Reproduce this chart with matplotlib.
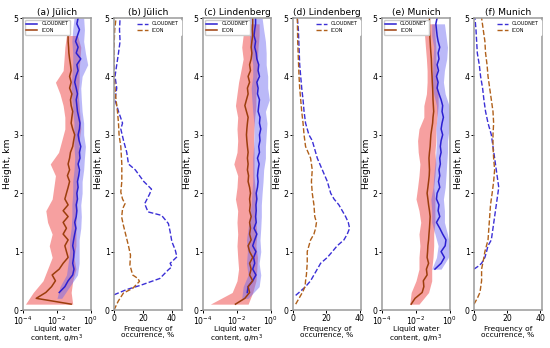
import numpy as np
import matplotlib.pyplot as plt

# ---- liquid water content, g/m3 ----
# (a) Juelich
z_a_cn = np.arange(0.3, 5.01, 0.1)
lwc_a_cn = [0.0135, 0.029, 0.045, 0.084, 0.10, 0.084, 0.095, 0.10, 0.084, 0.095,
            0.11, 0.13, 0.11, 0.135, 0.147, 0.135, 0.16, 0.147, 0.174, 0.16,
            0.19, 0.21, 0.174, 0.225, 0.21, 0.25, 0.20, 0.174, 0.21, 0.225,
            0.19, 0.16, 0.147, 0.135, 0.16, 0.135, 0.11, 0.13, 0.174, 0.147,
            0.25, 0.135, 0.174, 0.124, 0.16, 0.21, 0.147, 0.174]
zb_a_cn = np.arange(0.2, 5.01, 0.2)
lo_a_cn = [0.010, 0.015, 0.036, 0.045, 0.055, 0.055, 0.068, 0.075, 0.075, 0.084,
           0.084, 0.10, 0.11, 0.10, 0.095, 0.10, 0.084, 0.075, 0.068, 0.075,
           0.084, 0.084, 0.075, 0.084, 0.10]
hi_a_cn = [0.019, 0.055, 0.16, 0.20, 0.20, 0.20, 0.25, 0.27, 0.25, 0.30,
           0.30, 0.37, 0.41, 0.47, 0.37, 0.37, 0.30, 0.27, 0.25, 0.30,
           0.64, 0.47, 0.37, 0.41, 0.37]
z_a_ic = np.arange(0.1, 4.71, 0.1)
lwc_a_ic = [0.068, 0.0006, 0.0022, 0.0048, 0.0081, 0.0052, 0.0135, 0.023, 0.045, 0.036,
            0.029, 0.045, 0.023, 0.036, 0.023, 0.045, 0.023, 0.045, 0.029, 0.036,
            0.045, 0.055, 0.041, 0.055, 0.045, 0.055, 0.062, 0.084, 0.095, 0.11,
            0.084, 0.068, 0.075, 0.084, 0.068, 0.062, 0.075, 0.055, 0.068, 0.055,
            0.068, 0.062, 0.055, 0.05, 0.048, 0.045, 0.045]
zb_a_ic = np.arange(0.1, 4.71, 0.2)
lo_a_ic = [0.00014, 0.0004, 0.0015, 0.0028, 0.0052, 0.0035, 0.0052, 0.0028, 0.0022, 0.0052,
           0.0065, 0.0081, 0.004, 0.0124, 0.019, 0.029, 0.029, 0.023, 0.015, 0.0081,
           0.023, 0.026, 0.029, 0.036]
hi_a_ic = [0.084, 0.068, 0.084, 0.13, 0.10, 0.13, 0.13, 0.13, 0.147, 0.147,
           0.16, 0.16, 0.174, 0.20, 0.20, 0.25, 0.225, 0.20, 0.174, 0.20,
           0.20, 0.225, 0.25, 0.16]

# (c) Lindenberg
z_c_cn = np.arange(0.3, 5.01, 0.1)
lwc_c_cn = [0.04, 0.045, 0.084, 0.13, 0.084, 0.11, 0.095, 0.13, 0.084, 0.11,
            0.147, 0.10, 0.135, 0.124, 0.135, 0.13, 0.147, 0.135, 0.16, 0.174,
            0.16, 0.174, 0.20, 0.16, 0.21, 0.19, 0.225, 0.21, 0.25, 0.21,
            0.225, 0.174, 0.19, 0.21, 0.16, 0.174, 0.147, 0.21, 0.174, 0.19,
            0.147, 0.135, 0.11, 0.124, 0.10, 0.11, 0.124, 0.124]
zb_c_cn = np.arange(0.2, 5.01, 0.2)
lo_c_cn = [0.019, 0.023, 0.045, 0.036, 0.041, 0.036, 0.045, 0.055, 0.068, 0.075,
           0.084, 0.084, 0.084, 0.095, 0.10, 0.10, 0.084, 0.075, 0.068, 0.084,
           0.084, 0.068, 0.055, 0.055, 0.055]
hi_c_cn = [0.045, 0.20, 0.25, 0.20, 0.25, 0.225, 0.25, 0.27, 0.27, 0.30,
           0.34, 0.37, 0.47, 0.47, 0.52, 0.58, 0.47, 0.80, 0.64, 0.64,
           0.52, 0.52, 0.47, 0.37, 0.30]
z_c_ic = np.arange(0.1, 5.01, 0.1)
lwc_c_ic = [0.0081, 0.029, 0.055, 0.045, 0.084, 0.055, 0.068, 0.055, 0.084, 0.055,
            0.045, 0.068, 0.055, 0.062, 0.055, 0.068, 0.055, 0.06, 0.055, 0.062,
            0.055, 0.045, 0.048, 0.041, 0.045, 0.041, 0.045, 0.041, 0.038, 0.036,
            0.038, 0.041, 0.045, 0.036, 0.029, 0.036, 0.045, 0.041, 0.055, 0.045,
            0.062, 0.055, 0.068, 0.075, 0.068, 0.075, 0.084, 0.08, 0.084, 0.084]
zb_c_ic = np.arange(0.1, 4.91, 0.2)
lo_c_ic = [0.00027, 0.0052, 0.010, 0.0124, 0.011, 0.010, 0.011, 0.010, 0.011, 0.0081,
           0.010, 0.011, 0.0065, 0.010, 0.011, 0.010, 0.011, 0.0081, 0.010, 0.0124,
           0.017, 0.023, 0.019, 0.023, 0.029]
hi_c_ic = [0.045, 0.084, 0.13, 0.147, 0.16, 0.13, 0.147, 0.13, 0.13, 0.13,
           0.115, 0.10, 0.10, 0.10, 0.095, 0.10, 0.11, 0.13, 0.13, 0.147,
           0.16, 0.16, 0.174, 0.20, 0.20]

# (e) Munich
z_e_cn = np.arange(0.7, 5.01, 0.1)
lwc_e_cn = [0.13, 0.30, 0.47, 0.30, 0.52, 0.58, 0.37, 0.25, 0.16, 0.25,
            0.20, 0.225, 0.16, 0.174, 0.25, 0.21, 0.25, 0.225, 0.27, 0.25,
            0.30, 0.27, 0.30, 0.37, 0.30, 0.34, 0.41, 0.34, 0.37, 0.30,
            0.225, 0.174, 0.20, 0.16, 0.21, 0.174, 0.225, 0.20, 0.25, 0.20,
            0.174, 0.16, 0.147, 0.174]
zb_e_cn = np.arange(0.7, 4.91, 0.2)
lo_e_cn = [0.084, 0.16, 0.20, 0.13, 0.084, 0.084, 0.075, 0.10, 0.11, 0.13,
           0.147, 0.16, 0.147, 0.174, 0.16, 0.11, 0.084, 0.095, 0.10, 0.11,
           0.084, 0.084]
hi_e_cn = [0.30, 0.80, 0.97, 0.71, 0.47, 0.47, 0.41, 0.52, 0.58, 0.64,
           0.71, 0.71, 0.88, 0.97, 0.88, 0.52, 0.41, 0.47, 0.64, 0.71,
           0.58, 0.47]
z_e_ic = np.arange(0.1, 5.01, 0.1)
lwc_e_ic = [0.0052, 0.0088, 0.023, 0.029, 0.027, 0.045, 0.041, 0.055, 0.045, 0.048,
            0.05, 0.055, 0.058, 0.062, 0.065, 0.068, 0.062, 0.055, 0.05, 0.045,
            0.05, 0.055, 0.06, 0.062, 0.06, 0.058, 0.062, 0.068, 0.071, 0.075,
            0.084, 0.095, 0.10, 0.11, 0.105, 0.10, 0.098, 0.095, 0.091, 0.088,
            0.084, 0.082, 0.08, 0.075, 0.071, 0.068, 0.065, 0.062, 0.062, 0.062]
zb_e_ic = np.arange(0.1, 4.91, 0.2)
lo_e_ic = [0.0043, 0.0052, 0.010, 0.015, 0.015, 0.017, 0.015, 0.019, 0.015, 0.010,
           0.0124, 0.015, 0.017, 0.0135, 0.0124, 0.015, 0.029, 0.029, 0.041, 0.045,
           0.045, 0.041, 0.036, 0.032, 0.029]
hi_e_ic = [0.015, 0.055, 0.084, 0.084, 0.10, 0.11, 0.11, 0.13, 0.13, 0.13,
           0.11, 0.13, 0.147, 0.13, 0.147, 0.147, 0.174, 0.20, 0.20, 0.174,
           0.16, 0.147, 0.147, 0.13, 0.13]

# ---- frequency of occurrence, % ----
z_b_cn = [0.26, 0.35, 0.42, 0.54, 0.69, 0.74, 0.8, 0.91, 1.03, 1.17, 1.34, 1.48, 1.62,
          1.68, 1.82, 1.99, 2.07, 2.2, 2.4, 2.5, 2.7, 2.9, 3.1, 3.2, 3.4, 3.6, 3.8,
          4.0, 4.2, 4.4, 4.6, 4.8, 5.0]
f_b_cn = [0, 8.7, 18, 31.7, 37.6, 40, 38.8, 43.5, 42.3, 40, 38.8, 37.6, 32.9, 23.5,
          21.2, 24.7, 25.9, 20.6, 14.7, 10, 8.8, 6.6, 4.7, 5.9, 3.1, 0.7, 1.9, 0.7,
          1.9, 3.1, 4.2, 3.8, 4.2]
z_b_ic = [0, 0.15, 0.29, 0.37, 0.49, 0.54, 0.6, 0.77, 0.94, 1.11, 1.28, 1.45, 1.59,
          1.73, 1.82, 1.9, 2.02, 2.2, 2.5, 2.8, 3.0, 3.2, 3.4, 3.6, 3.8, 4.0, 4.2,
          4.5, 4.8, 5.0]
f_b_ic = [0, 2.9, 6.5, 12.9, 17.6, 16.5, 12.9, 11, 11.4, 9.9, 8.2, 6.5, 5.3, 5.9,
          7.6, 5.9, 4.7, 5.4, 5.4, 4.7, 3.5, 3.1, 2.4, 1.4, 0.7, 0.2, 0, 0, 0.5, 1.4]

z_d_cn = [0.25, 0.3, 0.4, 0.5, 0.6, 0.7, 0.8, 0.9, 1.0, 1.1, 1.2, 1.3, 1.4, 1.5, 1.6,
          1.7, 1.8, 1.9, 2.0, 2.2, 2.4, 2.6, 2.8, 2.9, 3.0, 3.1, 3.2, 3.4, 3.6, 3.8,
          4.0, 4.2, 4.5, 4.8, 5.0]
f_d_cn = [1.6, 3.6, 7.5, 10.5, 12.5, 14.5, 16.5, 20.5, 23.5, 26.4, 30.4, 32.4, 33.8,
          33, 31.4, 29.4, 27.4, 24.5, 22.5, 20.5, 17.5, 14.5, 12.5, 11.5, 9.5, 8.5,
          7.5, 6.6, 6, 5.2, 4.6, 4, 3.6, 3.2, 2.6]
z_d_ic = [0.1, 0.2, 0.3, 0.4, 0.5, 0.6, 0.8, 1.0, 1.1, 1.2, 1.3, 1.4, 1.5, 1.6, 1.8,
          2.0, 2.2, 2.4, 2.6, 2.8, 3.0, 3.2, 3.4, 3.6, 3.8, 4.0, 4.3, 4.6, 5.0]
f_d_ic = [1.6, 3.6, 5.6, 7.2, 7.5, 8, 8.5, 8.5, 9.5, 10.5, 12.5, 13.5, 14, 13, 12.5,
          11.5, 11, 11.5, 10.5, 7.5, 6.6, 6, 5.2, 4.6, 4, 3.6, 3.2, 2.8, 2.6]

z_f_cn = [0.7, 0.75, 0.8, 0.9, 1.0, 1.1, 1.2, 1.4, 1.6, 1.8, 2.0, 2.1, 2.2, 2.4, 2.6,
          2.8, 3.0, 3.2, 3.4, 3.6, 3.8, 4.0, 4.2, 4.4, 4.6, 4.8, 5.0]
f_f_cn = [0, 2.6, 4.6, 6.6, 7.6, 8.5, 10.5, 11.5, 12.5, 13.5, 14.5, 15, 14.5, 13.5,
          12.5, 11.5, 10.5, 8.5, 7, 6, 5.2, 4, 3.2, 2, 1.6, 1.2, 0.6]
z_f_ic = [0.1, 0.2, 0.3, 0.5, 0.7, 0.9, 1.0, 1.2, 1.4, 1.6, 1.8, 2.0, 2.2, 2.4, 2.6,
          2.8, 3.0, 3.2, 3.4, 3.6, 3.8, 4.0, 4.2, 4.4, 4.6, 4.8, 5.0]
f_f_ic = [0, 2, 3.6, 4.6, 4.6, 6, 6.6, 8.5, 9, 9.5, 10, 11, 11.9, 12.5, 11.9, 11.5,
          11.5, 11.9, 11.5, 10.5, 9.5, 8.5, 7.9, 7, 6.6, 5.6, 4.6]

titles = ['(a) Jülich', '(b) Jülich', '(c) Lindenberg', '(d) Lindenberg',
          '(e) Munich', '(f) Munich']
freq_xmax = [47, 40.6, 41.2]

CN_LINE = '#2b1fd1'
IC_LINE = '#9c3d0c'
CN_FILL = '#6a64f0'
IC_FILL = '#f26d6d'
CN_DASH = '#3b2fd6'
IC_DASH = '#b0601a'
GREY = '#9a9a9a'

lwc_sets = [
    (z_a_cn, lwc_a_cn, zb_a_cn, lo_a_cn, hi_a_cn, z_a_ic, lwc_a_ic, zb_a_ic, lo_a_ic, hi_a_ic),
    (z_c_cn, lwc_c_cn, zb_c_cn, lo_c_cn, hi_c_cn, z_c_ic, lwc_c_ic, zb_c_ic, lo_c_ic, hi_c_ic),
    (z_e_cn, lwc_e_cn, zb_e_cn, lo_e_cn, hi_e_cn, z_e_ic, lwc_e_ic, zb_e_ic, lo_e_ic, hi_e_ic),
]
freq_sets = [
    (z_b_cn, f_b_cn, z_b_ic, f_b_ic),
    (z_d_cn, f_d_cn, z_d_ic, f_d_ic),
    (z_f_cn, f_f_cn, z_f_ic, f_f_ic),
]

fig = plt.figure(figsize=(5.5, 3.48), dpi=100)
lefts = [23, 114, 203, 293, 382, 474]
tick_fs = 5.6
lab_fs = 5.4


def style(ax, title):
    for s in ax.spines.values():
        s.set_color(GREY)
        s.set_linewidth(1.1)
    ax.tick_params(colors='black', labelsize=tick_fs, length=2.5, width=0.7, pad=0.6)
    ax.tick_params(which='minor', length=0)
    ax.set_ylim(0, 5)
    ax.set_yticks([0, 1, 2, 3, 4, 5])
    ax.set_ylabel('Height, km', fontsize=6.6)
    ax.yaxis.set_label_coords(-0.165, 0.5)
    ax.xaxis.set_label_coords(0.5, -0.054)
    ax.set_title(title, fontsize=6.6, pad=2.5)


for i in range(6):
    ax = fig.add_axes([lefts[i] / 550, 1 - 310 / 348, 68 / 550, 292 / 348])
    k = i // 2
    if i % 2 == 0:
        zc, vc, zbc, loc, hic, zi, vi, zbi, loi, hii = lwc_sets[k]
        ax.fill_betweenx(zbi, loi, hii, color=IC_FILL, alpha=0.65, lw=0)
        ax.fill_betweenx(zbc, loc, hic, color=CN_FILL, alpha=0.45, lw=0)
        ax.plot(vc, zc, color=CN_LINE, lw=1.1, label='CLOUDNET')
        ax.plot(vi, zi, color=IC_LINE, lw=1.1, label='ICON')
        ax.set_xscale('log')
        ax.set_xlim(1e-4, 1)
        ax.set_xticks([1e-4, 1e-2, 1])
        ax.set_xlabel('Liquid water\ncontent, g/m$^3$', fontsize=lab_fs, linespacing=1.1)
        ax.legend(loc='upper left', fontsize=3.6, handlelength=2.2, borderpad=0.35,
                  labelspacing=0.35, framealpha=1, edgecolor='#cccccc', fancybox=True,
                  borderaxespad=0.3)
    else:
        zc, fc, zi, fi = freq_sets[k]
        ax.plot(fc, zc, color=CN_DASH, lw=1.0, ls='--', label='CLOUDNET')
        ax.plot(fi, zi, color=IC_DASH, lw=1.0, ls='--', label='ICON')
        ax.set_xlim(0, freq_xmax[k])
        ax.set_xticks([0, 20, 40])
        ax.set_xlabel('Frequency of\noccurrence, %', fontsize=lab_fs, linespacing=1.1)
        ax.legend(loc='upper right', fontsize=3.6, handlelength=2.2, borderpad=0.35,
                  labelspacing=0.35, framealpha=1, edgecolor='white',
                  borderaxespad=0.3)
    style(ax, titles[i])

fig.savefig('out.png', dpi=100)
